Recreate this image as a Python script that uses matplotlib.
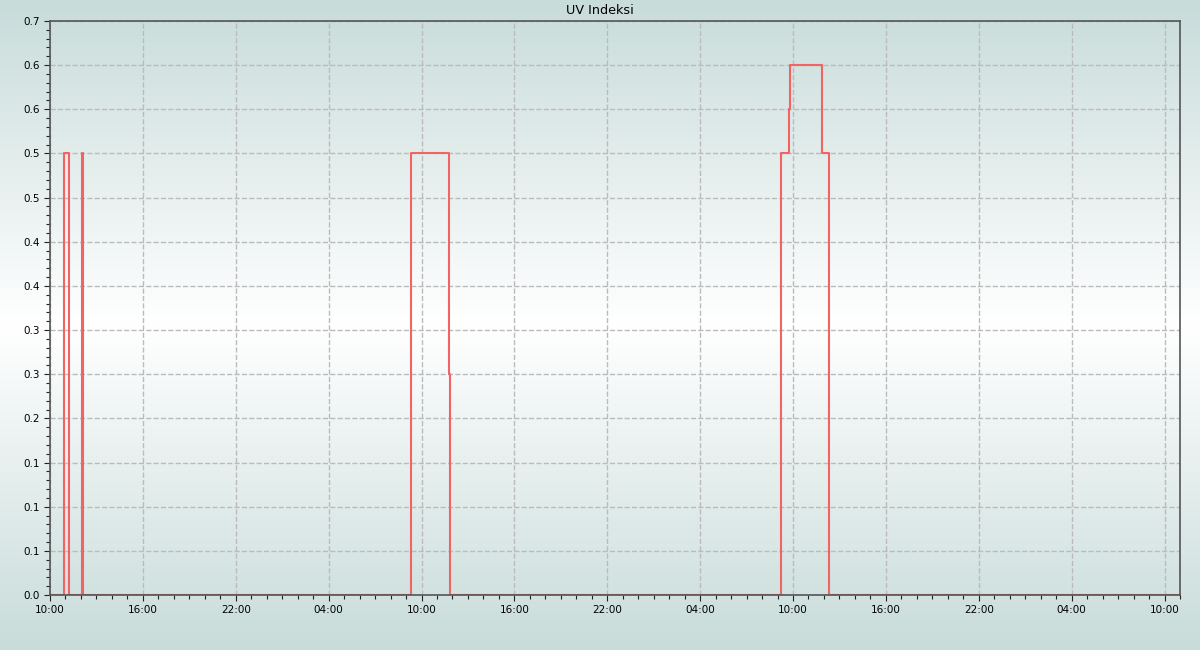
import numpy as np
import pandas as pd
import matplotlib
matplotlib.use('Agg')
import matplotlib.pyplot as plt
import matplotlib.dates as mdates
from matplotlib.colors import LinearSegmentedColormap

# UV index readings (step changes)
times = [
    '2024-06-10 10:00', '2024-06-10 10:54', '2024-06-10 11:14', '2024-06-10 12:04', '2024-06-10 12:08',
    '2024-06-11 09:19', '2024-06-11 11:46', '2024-06-11 11:50',
    '2024-06-12 09:12', '2024-06-12 09:43', '2024-06-12 09:47', '2024-06-12 11:51', '2024-06-12 12:20',
    '2024-06-13 10:52',
]
uv_values = [0.0, 0.5, 0.0, 0.5, 0.0,
             0.5, 0.25, 0.0,
             0.5, 0.55, 0.6, 0.5, 0.0,
             0.0]
y_ticks = [0.0, 0.05, 0.10, 0.15, 0.20, 0.25, 0.30, 0.35, 0.40, 0.45, 0.50, 0.55, 0.60, 0.65]
y_tick_labels = ['0.0', '0.1', '0.1', '0.1', '0.2', '0.3', '0.3', '0.4', '0.4', '0.5', '0.5', '0.6', '0.6', '0.7']
x_start = '2024-06-10 10:00'
x_end = '2024-06-13 11:00'

df = pd.DataFrame({'time': pd.to_datetime(times), 'uv': uv_values})

fig = plt.figure(figsize=(12, 6.5), dpi=100)

# background gradient over the whole figure
bg = fig.add_axes([0, 0, 1, 1], zorder=-1)
grad_cmap = LinearSegmentedColormap.from_list('bg', ['#c8dcda', '#ffffff', '#c8dcda'])
bg.imshow(np.linspace(0, 1, 256).reshape(-1, 1), aspect='auto', cmap=grad_cmap,
          extent=[0, 1, 0, 1])
bg.axis('off')

ax = fig.add_axes([50 / 1200, 55 / 650, 1130 / 1200, 574 / 650])
ax.patch.set_alpha(0)

ax.plot(df['time'], df['uv'], drawstyle='steps-post', color='#f26464', linewidth=1.5)

ax.set_xlim(pd.Timestamp(x_start), pd.Timestamp(x_end))
ax.set_ylim(0, 0.65)
ax.set_yticks(y_ticks)
ax.set_yticklabels(y_tick_labels)
ax.yaxis.set_minor_locator(plt.MultipleLocator(0.01))

ax.xaxis.set_major_locator(mdates.HourLocator(byhour=[4, 10, 16, 22]))
ax.xaxis.set_major_formatter(mdates.DateFormatter('%H:%M'))
ax.xaxis.set_minor_locator(mdates.HourLocator())

ax.tick_params(which='major', direction='out', length=4, width=0.8, labelsize=7.5, color='#222222')
ax.tick_params(which='minor', direction='out', length=3, width=0.8, color='#222222')
ax.tick_params(axis='x', which='major', pad=3)

ax.grid(True, which='major', linestyle='--', color='#bbbbbb', linewidth=1)
for side in ['left', 'bottom', 'top', 'right']:
    ax.spines[side].set_color('#555555')
    ax.spines[side].set_linewidth(1.2)

fig.text(0.5, 1 - 11 / 650, 'UV Indeksi', fontsize=9.2, ha='center', va='center')

fig.savefig('out.png', dpi=100)
